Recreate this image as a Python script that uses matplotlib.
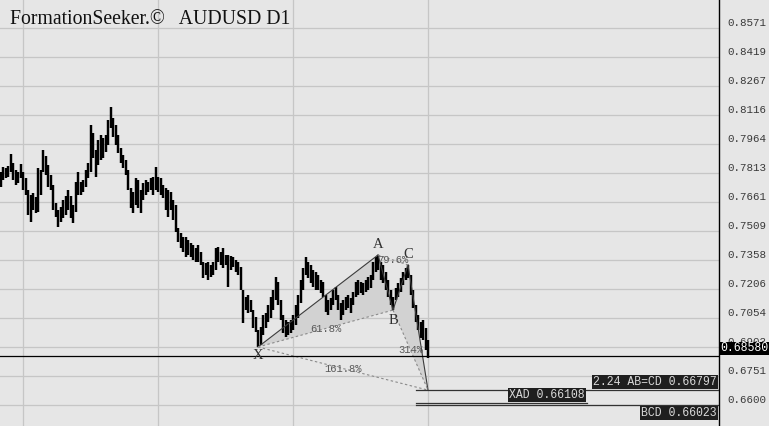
import matplotlib
matplotlib.use("Agg")
import matplotlib.pyplot as plt
from matplotlib.transforms import offset_copy, blended_transform_factory

# ---------------- data ----------------
title = "FormationSeeker.\u00a9   AUDUSD D1"

highs = [0.7820, 0.7846, 0.7841, 0.7851, 0.7914, 0.7867, 0.7830, 0.7820, 0.7862, 0.7820,
         0.7788, 0.7726, 0.7700, 0.7710, 0.7689, 0.7841, 0.7830, 0.7935, 0.7903, 0.7856,
         0.7804, 0.7752, 0.7658, 0.7621, 0.7637, 0.7673, 0.7694, 0.7726, 0.7694, 0.7647,
         0.7768, 0.7820, 0.7768, 0.7778, 0.7830, 0.7867, 0.8065, 0.8024, 0.7935, 0.7987,
         0.8013, 0.7998, 0.8013, 0.8092, 0.8160, 0.8102, 0.8065, 0.8013, 0.7945, 0.7909,
         0.7883, 0.7830, 0.7736, 0.7715, 0.7788, 0.7778, 0.7726, 0.7762, 0.7778, 0.7768,
         0.7788, 0.7794, 0.7846, 0.7794, 0.7788, 0.7752, 0.7736, 0.7726, 0.7715, 0.7673,
         0.7647, 0.7527, 0.7501, 0.7480, 0.7480, 0.7464, 0.7449, 0.7438, 0.7423, 0.7438,
         0.7402, 0.7349, 0.7344, 0.7349, 0.7334, 0.7349, 0.7423, 0.7428, 0.7402, 0.7423,
         0.7386, 0.7386, 0.7381, 0.7375, 0.7360, 0.7349, 0.7323, 0.7203, 0.7166, 0.7177,
         0.7151, 0.7098, 0.7062, 0.6994, 0.7009, 0.7072, 0.7083, 0.7124, 0.7166, 0.7203,
         0.7271, 0.7245, 0.7151, 0.7072, 0.7046, 0.7036, 0.7046, 0.7072, 0.7124, 0.7177,
         0.7255, 0.7318, 0.7375, 0.7349, 0.7334, 0.7308, 0.7297, 0.7281, 0.7255, 0.7245,
         0.7177, 0.7151, 0.7161, 0.7203, 0.7219, 0.7177, 0.7135, 0.7151, 0.7166, 0.7177,
         0.7161, 0.7192, 0.7245, 0.7255, 0.7245, 0.7240, 0.7255, 0.7271, 0.7281, 0.7349,
         0.7375, 0.7386, 0.7349, 0.7334, 0.7297, 0.7255, 0.7203, 0.7166, 0.7213, 0.7240,
         0.7266, 0.7297, 0.7318, 0.7334, 0.7281, 0.7203, 0.7124, 0.7072, 0.7036, 0.7046,
         0.7004, 0.6941]

lows = [0.7741, 0.7778, 0.7788, 0.7794, 0.7820, 0.7778, 0.7752, 0.7762, 0.7788, 0.7726,
        0.7700, 0.7595, 0.7558, 0.7621, 0.7606, 0.7611, 0.7700, 0.7820, 0.7804, 0.7741,
        0.7726, 0.7621, 0.7585, 0.7532, 0.7558, 0.7579, 0.7595, 0.7621, 0.7579, 0.7553,
        0.7611, 0.7700, 0.7700, 0.7715, 0.7741, 0.7788, 0.7820, 0.7893, 0.7794, 0.7856,
        0.7883, 0.7893, 0.7924, 0.7961, 0.8050, 0.8003, 0.7961, 0.7919, 0.7867, 0.7841,
        0.7804, 0.7726, 0.7632, 0.7606, 0.7647, 0.7632, 0.7606, 0.7673, 0.7700, 0.7715,
        0.7726, 0.7700, 0.7726, 0.7715, 0.7700, 0.7684, 0.7621, 0.7585, 0.7621, 0.7569,
        0.7506, 0.7454, 0.7423, 0.7402, 0.7375, 0.7386, 0.7375, 0.7360, 0.7349, 0.7349,
        0.7334, 0.7266, 0.7281, 0.7255, 0.7271, 0.7281, 0.7308, 0.7349, 0.7334, 0.7318,
        0.7334, 0.7219, 0.7308, 0.7323, 0.7297, 0.7281, 0.7203, 0.7030, 0.7098, 0.7083,
        0.7088, 0.7004, 0.6983, 0.6905, 0.6915, 0.6968, 0.7004, 0.7036, 0.7057, 0.7098,
        0.7151, 0.7124, 0.7046, 0.6978, 0.6957, 0.6968, 0.6978, 0.6994, 0.7020, 0.7057,
        0.7135, 0.7203, 0.7281, 0.7266, 0.7240, 0.7219, 0.7203, 0.7203, 0.7187, 0.7166,
        0.7088, 0.7072, 0.7098, 0.7124, 0.7151, 0.7098, 0.7046, 0.7072, 0.7098, 0.7109,
        0.7083, 0.7124, 0.7166, 0.7177, 0.7187, 0.7177, 0.7192, 0.7203, 0.7213, 0.7255,
        0.7297, 0.7308, 0.7255, 0.7240, 0.7203, 0.7166, 0.7124, 0.7098, 0.7151, 0.7166,
        0.7192, 0.7229, 0.7255, 0.7266, 0.7177, 0.7109, 0.7036, 0.6994, 0.6952, 0.6941,
        0.6889, 0.6847]

last_price = 0.68580
last_price_label = "0.68580"

tick_labels = ["0.6600", "0.6751", "0.6903", "0.7054", "0.7206", "0.7358", "0.7509",
               "0.7661", "0.7813", "0.7964", "0.8116", "0.8267", "0.8419", "0.8571"]

point_names = ["X", "A", "B", "C", "D"]
point_bars = [103, 151, 157, 163, 171]
point_prices = [0.6905, 0.7386, 0.7098, 0.7334, 0.66797]

ratio_labels = ["61.8%", "79.6%", "314%", "161.8%"]   # XB, AC, BD, XD

level_names = ["2.24 AB=CD", "XAD", "BCD"]
level_values = [0.66797, 0.66108, 0.66023]

grid_bars = [9, 63, 117, 171]

# ---------------- layout / style ----------------
W, H, DPI = 769, 426, 100
BG = "#e6e6e6"
GRID = "#c6c6c6"
MONO = "Liberation Mono"
SERIF = "Liberation Serif"

fig = plt.figure(figsize=(W / DPI, H / DPI), dpi=DPI, facecolor=BG)
ax = fig.add_axes([0, 0, 719 / W, 1], facecolor=BG)
ax.set_xlim(-0.2, 287.4)
ax.set_ylim(0.6492, 0.8719)

for s in ("top", "left", "bottom"):
    ax.spines[s].set_visible(False)
ax.spines["right"].set_color("black")
ax.spines["right"].set_linewidth(1.0)

# y ticks on the right
ax.yaxis.tick_right()
ax.set_yticks([float(t) for t in tick_labels])
ax.set_yticklabels(tick_labels, family=MONO, fontsize=7.8, color="#3a3a3a", va="bottom")
ax.tick_params(axis="y", length=0, pad=6.3)
ax.set_xticks([])

# grid
for t in tick_labels:
    ax.axhline(float(t), color=GRID, lw=0.9, zorder=0)
for g in grid_bars:
    ax.axvline(g, color=GRID, lw=0.9, zorder=0)

px = dict(zip(point_names, point_bars))
pp = dict(zip(point_names, point_prices))

# shaded triangles
ax.fill([px[k] for k in "XAB"], [pp[k] for k in "XAB"], color="#d2d2d2", lw=0, zorder=1)
ax.fill([px[k] for k in "BCD"], [pp[k] for k in "BCD"], color="#d2d2d2", lw=0, zorder=1)

# price bars
idx = list(range(len(highs)))
ax.vlines(idx, lows, highs, color="black", lw=1.75, zorder=3)

# pattern legs
for a, b in [("X", "A"), ("A", "B"), ("B", "C"), ("C", "D")]:
    ax.plot([px[a], px[b]], [pp[a], pp[b]], color="#3c3c3c", lw=0.8, zorder=4)
for (a, b), lab in zip([("X", "B"), ("A", "C"), ("B", "D"), ("X", "D")], ratio_labels):
    ax.plot([px[a], px[b]], [pp[a], pp[b]], color="#8a8a8a", lw=0.8,
            dashes=(2.2, 2.2), zorder=4)
    ax.text((px[a] + px[b]) / 2, (pp[a] + pp[b]) / 2, lab, family=MONO, fontsize=7.6,
            color="#5a5a5a", ha="center", va="center", zorder=5)

# point letters
letter_off = {"X": -9, "A": 10, "B": -10, "C": 10}
for k, dy in letter_off.items():
    tr = offset_copy(ax.transData, fig=fig, x=0, y=dy, units="dots")
    ax.text(px[k], pp[k], k, transform=tr, family=SERIF, fontsize=10.5,
            color="#303030", ha="center", va="center", zorder=6)

# current price line and label
ax.axhline(last_price, color="black", lw=0.9, zorder=5)
btr = blended_transform_factory(ax.transAxes, ax.transData)
ax.text(1.0, last_price, last_price_label,
        transform=offset_copy(btr, fig=fig, x=1.0, y=1.5, units="dots"),
        family=MONO, fontsize=8.3, color="white", ha="left", va="bottom",
        bbox=dict(boxstyle="square,pad=0.08", fc="black", ec="none"),
        clip_on=False, zorder=7)

# projected level lines with labels
level_start = 166.2
xad_end = 234.6
ab_cd, xad, bcd = level_values
ax.plot([level_start, 287.4], [ab_cd, ab_cd], color="#333333", lw=0.9, zorder=5)
ax.plot([level_start, xad_end], [xad, xad], color="#333333", lw=0.9, zorder=5)
ax.plot([level_start, 287.4], [bcd, bcd], color="#333333", lw=0.9, zorder=5)

box = dict(boxstyle="square,pad=0.08", fc="#1f1f1f", ec="none")
ax.text(287.4, ab_cd, f"{level_names[0]} {ab_cd:.5f}",
        transform=offset_copy(ax.transData, fig=fig, x=-2, y=2, units="dots"),
        family=MONO, fontsize=8.3, color="#d8d8d8", ha="right", va="bottom", bbox=box, zorder=7)
ax.text(xad_end, xad, f"{level_names[1]} {xad:.5f}",
        transform=offset_copy(ax.transData, fig=fig, x=-2, y=2, units="dots"),
        family=MONO, fontsize=8.3, color="#d8d8d8", ha="right", va="bottom", bbox=box, zorder=7)
ax.text(287.4, bcd, f"{level_names[2]} {bcd:.5f}",
        transform=offset_copy(ax.transData, fig=fig, x=-2, y=-2, units="dots"),
        family=MONO, fontsize=8.3, color="#d8d8d8", ha="right", va="top", bbox=box, zorder=7)

# title
ax.text(10 / 719, 1 - 24 / H, title, transform=ax.transAxes, family=SERIF,
        fontsize=14.2, color="#111111", ha="left", va="baseline", zorder=8)

fig.savefig("out.png", dpi=DPI, facecolor=BG)
